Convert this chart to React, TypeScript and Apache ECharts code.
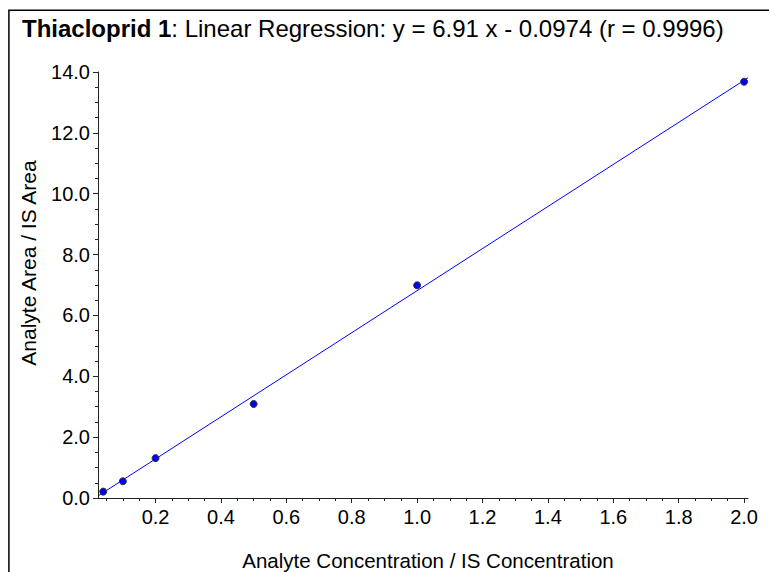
import React, { useEffect, useRef } from "react";
import * as echarts from "echarts";

// Data
const pointX = [0.04, 0.1, 0.2, 0.5, 1.0, 2.0];
const pointY = [0.21, 0.55, 1.31, 3.09, 6.99, 13.68];

// Regression line endpoints (at the axis limits)
const fitX = [0.024, 2.012];
const fitY = [0.068, 13.81];

const xMajorTicks = [0.2, 0.4, 0.6, 0.8, 1.0, 1.2, 1.4, 1.6, 1.8, 2.0];
const xMinorTicks = [
  0.05, 0.1, 0.15, 0.25, 0.3, 0.35, 0.45, 0.5, 0.55, 0.65, 0.7, 0.75, 0.85, 0.9, 0.95,
  1.05, 1.1, 1.15, 1.25, 1.3, 1.35, 1.45, 1.5, 1.55, 1.65, 1.7, 1.75, 1.85, 1.9, 1.95,
];
const xMin = 0.024;
const xMax = 2.012;
const yMin = 0;
const yMax = 14;
const yInterval = 2;

const titleBold = "Thiacloprid 1";
const titleRest = ": Linear Regression: y = 6.91 x - 0.0974 (r = 0.9996)";
const xName = "Analyte Concentration / IS Concentration";
const yName = "Analyte Area / IS Area";

const FONT = "'Liberation Sans', Arial, Helvetica, sans-serif";

export default function App() {
  const ref = useRef<HTMLDivElement>(null);
  useEffect(() => {
    if (!ref.current) return;
    const chart = echarts.init(ref.current, undefined, { renderer: "svg" });
    const axisColor = "#222";
    chart.setOption({
      animation: false,
      backgroundColor: "#fff",
      textStyle: { fontFamily: FONT },
      grid: { left: 98, right: 21, top: 72, bottom: 74 },
      xAxis: [
        {
          type: "value",
          position: "bottom",
          min: xMin,
          max: xMax,
          axisLine: { show: true, lineStyle: { color: axisColor, width: 1 } },
          axisTick: { show: true, length: 3, customValues: xMinorTicks, lineStyle: { color: axisColor } },
          axisLabel: { show: false },
          splitLine: { show: false },
        },
        {
          type: "value",
          position: "bottom",
          offset: 0,
          min: xMin,
          max: xMax,
          axisLine: { show: false },
          axisTick: { show: true, length: 5, customValues: xMajorTicks, lineStyle: { color: axisColor } },
          axisLabel: {
            show: true,
            customValues: xMajorTicks,
            formatter: (v: number) => v.toFixed(1),
            fontSize: 20,
            color: "#000",
            fontFamily: FONT,
            margin: 9,
          },
          splitLine: { show: false },
        },
      ],
      yAxis: {
        type: "value",
        min: yMin,
        max: yMax,
        interval: yInterval,
        axisLine: { show: true, lineStyle: { color: axisColor, width: 1 } },
        axisTick: { show: true, length: 5, lineStyle: { color: axisColor } },
        minorTick: { show: true, splitNumber: 4, length: 3, lineStyle: { color: axisColor } },
        axisLabel: {
          formatter: (v: number) => v.toFixed(1),
          fontSize: 20,
          color: "#000",
          fontFamily: FONT,
          margin: 8,
        },
        splitLine: { show: false },
        minorSplitLine: { show: false },
      },
      series: [
        {
          type: "line",
          xAxisIndex: 0,
          data: fitX.map((x, i) => [x, fitY[i]]),
          symbol: "none",
          lineStyle: { color: "#0000ff", width: 1 },
          silent: true,
          z: 2,
        },
        {
          type: "scatter",
          xAxisIndex: 0,
          data: pointX.map((x, i) => [x, pointY[i]]),
          symbol: "circle",
          symbolSize: 7,
          itemStyle: { color: "#0000ff", borderColor: "#333", borderWidth: 1, opacity: 1 },
          z: 3,
        },
      ],
      graphic: [
        {
          type: "rect",
          shape: { x: 8.9, y: 10.2, width: 900, height: 700 },
          style: { fill: "none", stroke: "#000", lineWidth: 1.5 },
          silent: true,
        },
        {
          type: "text",
          x: 22,
          y: 28,
          style: {
            text: `{b|${titleBold}}{n|${titleRest}}`,
            fontFamily: FONT,
            fontSize: 24,
            fill: "#000",
            verticalAlign: "middle",
            align: "left",
            rich: {
              b: { fontWeight: "bold", fontSize: 24, fontFamily: FONT, fill: "#000" },
              n: { fontWeight: "normal", fontSize: 24, fontFamily: FONT, fill: "#000" },
            },
          },
        },
        {
          type: "text",
          x: 428,
          y: 560,
          style: {
            text: xName,
            fontFamily: FONT,
            fontSize: 20.5,
            fill: "#000",
            align: "center",
            verticalAlign: "middle",
          },
        },
        {
          type: "text",
          x: 28,
          y: 263,
          rotation: Math.PI / 2,
          style: {
            text: yName,
            fontFamily: FONT,
            fontSize: 21,
            fill: "#000",
            align: "center",
            verticalAlign: "middle",
          },
        },
      ],
    });
    return () => chart.dispose();
  }, []);
  return (
    <div
      ref={ref}
      style={{ position: "absolute", left: 0, top: 0, width: 769, height: 572 }}
    />
  );
}
